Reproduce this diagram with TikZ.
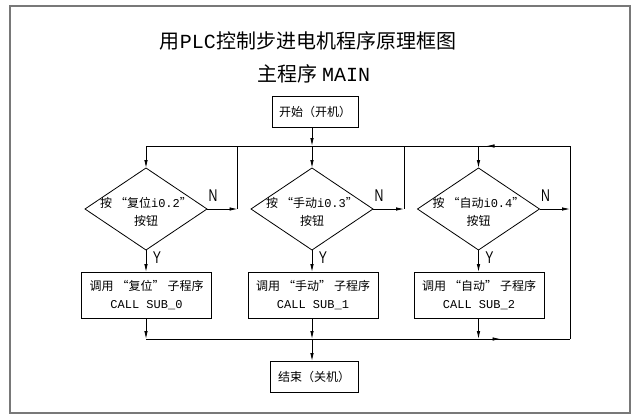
\documentclass[tikz,border=0pt]{standalone}
\usepackage{fontspec}
\usepackage{graphicx}
\setmainfont{Noto Sans CJK SC}
\newfontfamily\monof{Liberation Mono}
\newfontfamily\lsansf{Liberation Sans}
\usetikzlibrary{shapes.geometric,arrows.meta,calc}
\newcommand{\myopq}{\hspace{3pt}“}
\newcommand{\myclq}{”\hspace{3pt}}

\begin{document}
\begin{tikzpicture}[x=1pt,y=-1pt,
  every node/.style={inner sep=0pt, outer sep=0pt},
  line/.style={draw=black, line width=0.8pt},
  arr/.style={line, -{Latex[length=8pt,width=3.5pt]}},
  box/.style={draw=black, line width=0.8pt, rectangle, align=center, font=\fontsize{12}{18}\selectfont},
  dia/.style={draw=black, line width=0.8pt, diamond, minimum width=122pt, minimum height=82pt},
  diatext/.style={align=center, font=\fontsize{12}{18}\selectfont},
  yn/.style={font=\lsansf\fontsize{17}{17}\selectfont},
  ttl/.style={font=\fontsize{20}{24}\selectfont},
]
\useasboundingbox (0,0) rectangle (633,415);
\draw[draw={rgb,255:red,120;green,120;blue,120}, line width=1.6pt] (10,6) rectangle (630,413);

% titles
\node[ttl] (title) at (308,41) {用{\monof PLC}控制步进电机程序原理框图};
\node[ttl] (sub) at (314,74) {主程序 {\monof MAIN}};

% start / end
\node[box, minimum width=86pt, minimum height=31pt] (start) at (315,111.5) {开始（开机）};
\node[box, minimum width=88pt, minimum height=31pt] (end) at (314,376.5) {结束（关机）};

% diamonds
\node[dia] (d1) at (146,209) {};
\node[dia] (d2) at (312,209) {};
\node[dia] (d3) at (478.5,209) {};
\node[diatext] (d1t) at (146,212) {按\myopq 复位{\monof i0.2}”\\按钮};
\node[diatext] (d2t) at (312,212) {按\myopq 手动{\monof i0.3}”\\按钮};
\node[diatext] (d3t) at (478.5,212) {按\myopq 自动{\monof i0.4}”\\按钮};

% boxes
\node[box, minimum width=130pt, minimum height=46pt] (b1) at (146.5,295) {调用\myopq 复位\myclq 子程序\\{\monof CALL SUB\_0}};
\node[box, minimum width=130pt, minimum height=46pt] (b2) at (313,295) {调用\myopq 手动\myclq 子程序\\{\monof CALL SUB\_1}};
\node[box, minimum width=130pt, minimum height=46pt] (b3) at (479,295) {调用\myopq 自动\myclq 子程序\\{\monof CALL SUB\_2}};

% loop coordinates
\coordinate (t1) at (146,146);
\coordinate (t2) at (237.5,146);
\coordinate (t3) at (404,146);
\coordinate (t4) at (570,146);
\coordinate (u1) at (146,339);
\coordinate (u4) at (570,339);

% top line and entries
\draw[line] (t1) -- (t4);
\draw[arr] (t1) -- (d1.north);
\draw[arr] (start.south -| d2.north) -- (d2.north |- t1);
\draw[arr] (d2.north |- t1) -- (d2.north);
\draw[arr] (t4) -- ($(d3.north |- t4)+(8,0)$);
\draw[arr] (d3.north |- t4) -- (d3.north);

% N branches
\draw[arr] (d1.east) -- (d1.east -| t2);
\draw[line] (t2) -- (d1.east -| t2);
\draw[arr] (d2.east) -- (d2.east -| t3);
\draw[line] (t3) -- (d2.east -| t3);
\draw[arr] (d3.east) -- (d3.east -| t4);
\draw[line] (t4) -- (u4);

% Y branches
\draw[arr] (d1.south) -- (b1.north -| d1.south);
\draw[arr] (d2.south) -- (b2.north -| d2.south);
\draw[arr] (d3.south) -- (b3.north -| d3.south);

% bottom
\draw[line] (u1) -- (u4);
\draw[arr] (b1.south -| u1) -- (u1);
\draw[arr] (b2.south -| d2.south) -- (u1 -| d2.south);
\draw[arr] (u1 -| d2.south) -- (end.north -| d2.south);
\draw[arr] (b3.south -| d3.south) -- (u4 -| d3.south);
\draw[arr] (u4 -| d3.south) -- ($(u4 -| d3.south)+(22,0)$);

% labels
\node[yn] (n1) at ($(d1.east)+(6,-13)$) {\scalebox{0.72}[1]{N}};
\node[yn] (n2) at ($(d2.east)+(6,-13)$) {\scalebox{0.72}[1]{N}};
\node[yn] (n3) at ($(d3.east)+(6,-13)$) {\scalebox{0.72}[1]{N}};
\node[yn] (y1) at ($(d1.south)+(11,8)$) {\scalebox{0.72}[1]{Y}};
\node[yn] (y2) at ($(d2.south)+(11,8)$) {\scalebox{0.72}[1]{Y}};
\node[yn] (y3) at ($(d3.south)+(11,8)$) {\scalebox{0.72}[1]{Y}};
\end{tikzpicture}
\end{document}
